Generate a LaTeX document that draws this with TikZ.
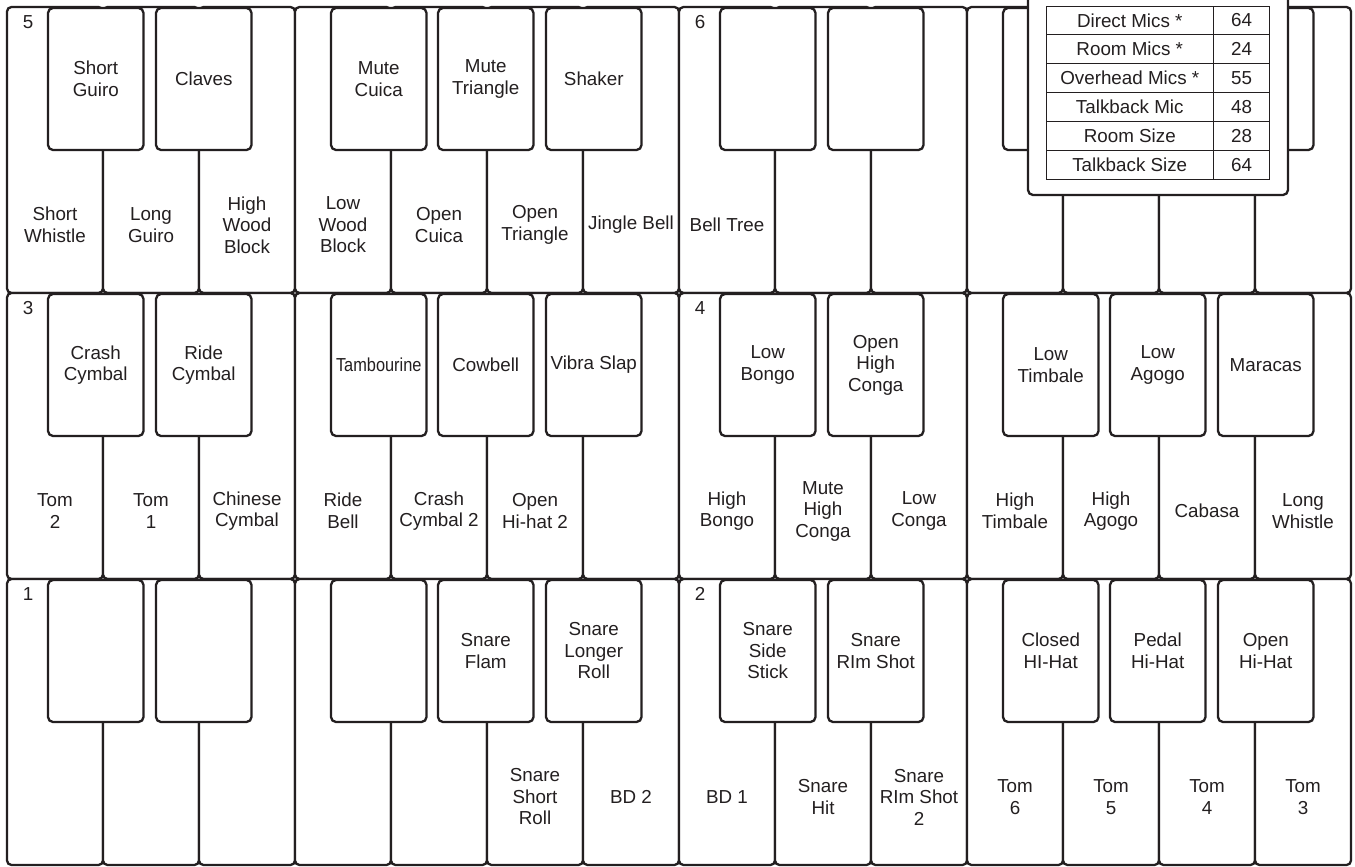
\documentclass[tikz,border=0pt]{standalone}
\usepackage{fontspec}
\setmainfont{Liberation Sans}
\usepackage{graphicx}
\definecolor{ink}{HTML}{231F20}
\begin{document}
\begin{tikzpicture}[x=1pt,y=-1pt,
  wkey/.style={rectangle, draw=ink, line width=2.3pt, fill=white, rounded corners=4.5pt,
    minimum width=96pt, minimum height=286pt, anchor=north west, inner sep=0pt, outer sep=0pt},
  bkey/.style={rectangle, draw=ink, line width=2.3pt, fill=white, rounded corners=5pt,
    minimum width=95.5pt, minimum height=142pt, anchor=north west, inner sep=0pt, outer sep=0pt},
  panelbox/.style={rectangle, draw=ink, line width=2.3pt, fill=white, rounded corners=5pt,
    minimum width=260pt, minimum height=205pt, anchor=north west, inner sep=0pt, outer sep=0pt},
  cellA/.style={rectangle, draw=ink, line width=0.9pt, minimum width=167.5pt, minimum height=28.83pt,
    anchor=north west, inner sep=0pt, outer sep=0pt, text=ink, font=\fontsize{18.8}{21.5}\selectfont},
  cellB/.style={cellA, minimum width=56pt},
  lbl/.style={text=ink, font=\fontsize{18.8}{21.5}\selectfont, align=center, inner sep=0pt},
  num/.style={text=ink, font=\fontsize{18.8}{21.5}\selectfont, inner sep=0pt}
]
\useasboundingbox[fill=white] (0,0) rectangle (1355,867);

% white keys
\foreach \r/\t in {1/7,2/293,3/579}{
  \foreach \i in {0,...,13}{
    \node[wkey] (w\r-\i) at ({7+96*\i},\t) {};
  }
}
% black keys
\foreach \r/\t in {1/7,2/293,3/579}{
  \foreach \o in {0,1}{
    \foreach \b/\k in {41/1,149/2,324/3,431/4,539/5}{
      \node[bkey] (b\r-\o-\k) at ({7+672*\o+\b},{\t+1}) {};
    }
  }
}

% octave numbers
\node[num] (n5) at ([xshift=21pt,yshift=-15pt]w1-0.north west) {5};
\node[num] (n6) at ([xshift=21pt,yshift=-15pt]w1-7.north west) {6};
\node[num] (n3) at ([xshift=21pt,yshift=-15pt]w2-0.north west) {3};
\node[num] (n4) at ([xshift=21pt,yshift=-15pt]w2-7.north west) {4};
\node[num] (n1) at ([xshift=21pt,yshift=-15pt]w3-0.north west) {1};
\node[num] (n2) at ([xshift=21pt,yshift=-15pt]w3-7.north west) {2};

% white key labels
\foreach \r/\i/\txt in {
  1/0/{Short\\Whistle}, 1/1/{Long\\Guiro}, 1/2/{High\\Wood\\Block}, 1/3/{Low\\Wood\\Block},
  1/4/{Open\\Cuica}, 1/5/{Open\\Triangle}, 1/6/{Jingle Bell}, 1/7/{Bell Tree},
  2/0/{Tom\\2}, 2/1/{Tom\\1}, 2/2/{Chinese\\Cymbal}, 2/3/{Ride\\Bell}, 2/4/{Crash\\Cymbal 2},
  2/5/{Open\\Hi-hat 2}, 2/7/{High\\Bongo}, 2/8/{Mute\\High\\Conga}, 2/9/{Low\\Conga},
  2/10/{High\\Timbale}, 2/11/{High\\Agogo}, 2/12/{Cabasa}, 2/13/{Long\\Whistle},
  3/5/{Snare\\Short\\Roll}, 3/6/{BD 2}, 3/7/{BD 1}, 3/8/{Snare\\Hit}, 3/9/{Snare\\RIm Shot\\2},
  3/10/{Tom\\6}, 3/11/{Tom\\5}, 3/12/{Tom\\4}, 3/13/{Tom\\3}}{
  \node[lbl] (lw\r-\i) at ([yshift=68pt]w\r-\i.south) {\txt};
}

% black key labels
\foreach \r/\o/\k/\txt in {
  1/0/1/{Short\\Guiro}, 1/0/2/{Claves}, 1/0/3/{Mute\\Cuica}, 1/0/4/{Mute\\Triangle}, 1/0/5/{Shaker},
  2/0/1/{Crash\\Cymbal}, 2/0/2/{Ride\\Cymbal}, 2/0/3/{\scalebox{0.87}[1]{Tambourine}}, 2/0/4/{Cowbell}, 2/0/5/{Vibra Slap},
  2/1/1/{Low\\Bongo}, 2/1/2/{Open\\High\\Conga}, 2/1/3/{Low\\Timbale}, 2/1/4/{Low\\Agogo}, 2/1/5/{Maracas},
  3/0/4/{Snare\\Flam}, 3/0/5/{Snare\\Longer\\Roll},
  3/1/1/{Snare\\Side\\Stick}, 3/1/2/{Snare\\RIm Shot}, 3/1/3/{Closed\\HI-Hat}, 3/1/4/{Pedal\\Hi-Hat}, 3/1/5/{Open\\Hi-Hat}}{
  \node[lbl] (lb\r-\o-\k) at (b\r-\o-\k.center) {\txt};
}

% settings panel
\node[panelbox] (panel) at (1028,-10) {};
\foreach \k/\name/\val in {0/{Direct Mics *}/64, 1/{Room Mics *}/24, 2/{Overhead Mics *}/55,
  3/{Talkback Mic}/48, 4/{Room Size}/28, 5/{Talkback Size}/64}{
  \node[cellA] (ta\k) at (1046,{6+28.83*\k}) {\name};
  \node[cellB] (tb\k) at (1213.5,{6+28.83*\k}) {\val};
}
\end{tikzpicture}
\end{document}
